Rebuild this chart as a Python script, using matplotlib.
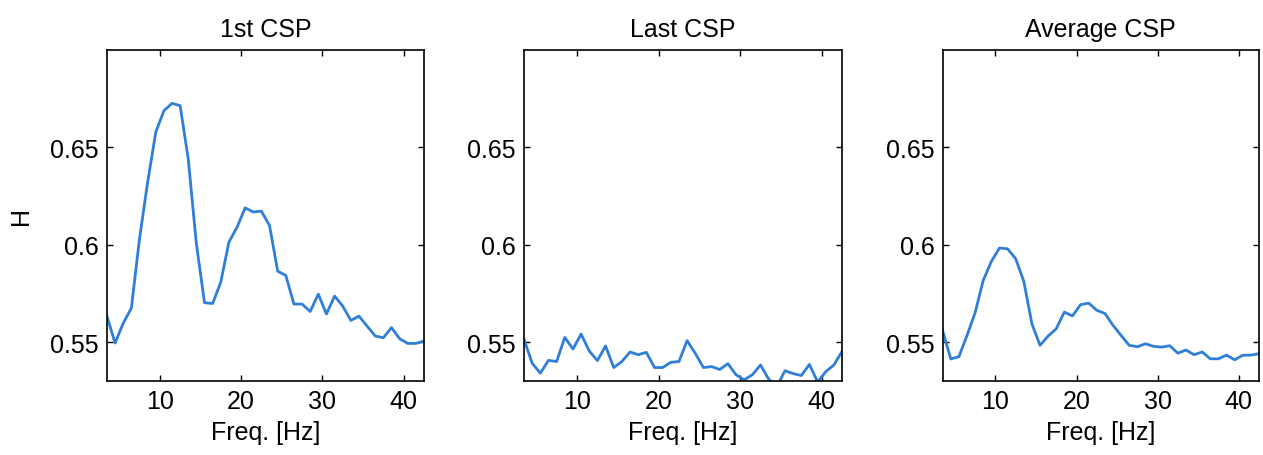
import numpy as np
import matplotlib
matplotlib.use("Agg")
import matplotlib.pyplot as plt

# frequency bins (Hz)
freqs = np.arange(3.5, 43.0, 1.0)

# entropy H per frequency for each CSP component
h_first = [0.5632, 0.5495, 0.5597, 0.5674, 0.6030, 0.6320, 0.6577, 0.6688, 0.6726, 0.6714,
           0.6440, 0.6004, 0.5702, 0.5698, 0.5808, 0.6013, 0.6090, 0.6189, 0.6168, 0.6172,
           0.6098, 0.5864, 0.5842, 0.5695, 0.5695, 0.5657, 0.5746, 0.5644, 0.5736, 0.5685,
           0.5611, 0.5633, 0.5582, 0.5531, 0.5522, 0.5574, 0.5517, 0.5493, 0.5493, 0.5505]

h_last = [0.5514, 0.5391, 0.5340, 0.5406, 0.5400, 0.5524, 0.5464, 0.5541, 0.5454, 0.5405,
          0.5480, 0.5369, 0.5400, 0.5449, 0.5435, 0.5447, 0.5369, 0.5369, 0.5396, 0.5400,
          0.5507, 0.5442, 0.5369, 0.5374, 0.5359, 0.5389, 0.5332, 0.5306, 0.5332, 0.5382,
          0.5310, 0.5270, 0.5353, 0.5338, 0.5328, 0.5385, 0.5295, 0.5348, 0.5382, 0.5452]

h_avg = [0.5557, 0.5413, 0.5425, 0.5534, 0.5651, 0.5817, 0.5914, 0.5983, 0.5979, 0.5928,
         0.5812, 0.5594, 0.5483, 0.5531, 0.5568, 0.5654, 0.5634, 0.5692, 0.5700, 0.5663,
         0.5647, 0.5586, 0.5534, 0.5483, 0.5476, 0.5491, 0.5478, 0.5474, 0.5481, 0.5443,
         0.5459, 0.5435, 0.5449, 0.5414, 0.5414, 0.5433, 0.5409, 0.5432, 0.5433, 0.5440]

titles = ["1st CSP", "Last CSP", "Average CSP"]
series = [h_first, h_last, h_avg]
xticks = [10, 20, 30, 40]
yticks = [0.55, 0.60, 0.65]
ytick_labels = ["0.55", "0.6", "0.65"]

plt.rcParams["font.family"] = ["Liberation Sans", "DejaVu Sans"]
plt.rcParams["font.size"] = 18

fig = plt.figure(figsize=(12.63, 4.56), dpi=100)
lefts = [0.0847, 0.4149, 0.7464]
widths = [0.2510, 0.2518, 0.2504]

for i in range(3):
    ax = fig.add_axes([lefts[i], 0.1623, widths[i], 0.7259])
    ax.plot(freqs, series[i], color="#2f7fd9", linewidth=2.0)
    ax.set_xlim(3.5, 42.5)
    ax.set_ylim(0.53, 0.70)
    ax.set_xticks(xticks)
    ax.set_yticks(yticks)
    ax.set_yticklabels(ytick_labels)
    ax.tick_params(direction="in", length=4, width=1.0, top=True, right=True,
                   labelsize=18, pad=6)
    for sp in ax.spines.values():
        sp.set_linewidth(1.2)
    ax.set_title(titles[i], fontsize=18, pad=10)
    ax.set_xlabel("Freq. [Hz]", fontsize=18, labelpad=5)
    if i == 0:
        ax.set_ylabel("H", fontsize=18, labelpad=12)

fig.savefig("out.png", dpi=100)
